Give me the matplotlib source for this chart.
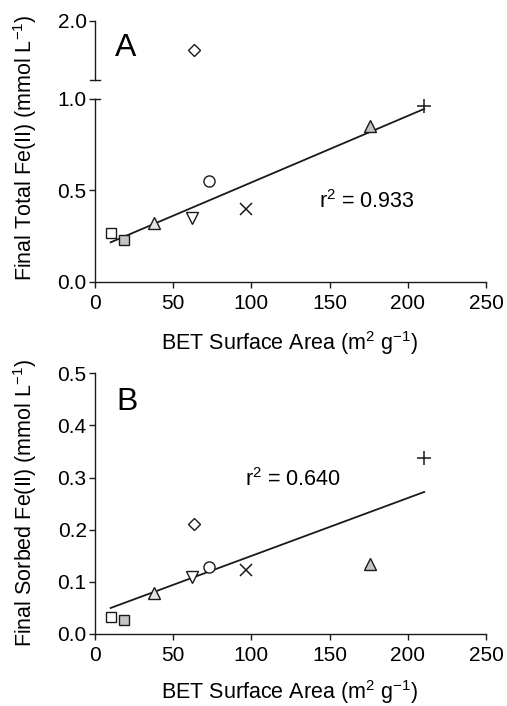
import numpy as np
import matplotlib
matplotlib.use("Agg")
import matplotlib.pyplot as plt

plt.rcParams['font.family'] = ['Liberation Sans', 'DejaVu Sans']
plt.rcParams['mathtext.fontset'] = 'custom'
plt.rcParams['mathtext.rm'] = 'Liberation Sans'

# ---- data ----
surface_area = [10, 18.5, 37.5, 62, 63.5, 73, 96.5, 176, 210.5]
total_fe     = [0.27, 0.23, 0.32, 0.35, 1.75, 0.55, 0.40, 0.85, 0.96]
sorbed_fe    = [0.033, 0.026, 0.078, 0.109, 0.211, 0.128, 0.123, 0.134, 0.337]
markers      = ['s', 's', '^', 'v', 'D', 'o', 'x', '^', '+']
facecolors   = ['white', '#c4c4c4', '#e4e4e4', 'white', 'white', 'white', 'none', '#c4c4c4', 'none']
marker_sizes = [7, 7, 8, 8, 6.5, 8, 8.5, 8, 9.5]
outlier_in_total = [False, False, False, False, True, False, False, False, False]
xticks = [0, 50, 100, 150, 200, 250]
r2_A = "0.933"
r2_B = "0.640"

FS_TICK = 15
FS_LAB = 15.5
EC = '#1a1a1a'

fig = plt.figure(figsize=(5.07, 7.06), dpi=100)

def style(ax, bottom=True):
    for s in ['top', 'right']:
        ax.spines[s].set_visible(False)
    ax.spines['left'].set_color(EC)
    ax.spines['left'].set_linewidth(1.0)
    ax.spines['bottom'].set_color(EC)
    ax.spines['bottom'].set_linewidth(1.0)
    if not bottom:
        ax.spines['bottom'].set_visible(False)
    ax.tick_params(direction='out', length=4.5, width=1.0, color=EC,
                   labelsize=FS_TICK, pad=1.5)
    ax.tick_params(axis='x', pad=4.5)

def draw_points(ax, xs, ys, mask=None):
    for i, (x, y) in enumerate(zip(xs, ys)):
        if mask is not None and not mask[i]:
            continue
        m = markers[i]
        fc = facecolors[i]
        if m in ('x', '+'):
            ax.plot([x], [y], marker=m, ms=marker_sizes[i], mew=1.1,
                    color=EC, linestyle='none', clip_on=False, zorder=3)
        else:
            ax.plot([x], [y], marker=m, ms=marker_sizes[i], mew=1.0,
                    mec=EC, mfc=fc, linestyle='none', clip_on=False, zorder=3)

# ---------- Panel A ----------
L, W = 0.1874, 0.7712
axA = fig.add_axes([L, 0.6006, W, 0.2592])
axA_top = fig.add_axes([L, 0.8867, W, 0.0836])

style(axA)
style(axA_top, bottom=False)

xA = np.array([x for x, o in zip(surface_area, outlier_in_total) if not o])
yA = np.array([y for y, o in zip(total_fe, outlier_in_total) if not o])
slopeA, intA = np.polyfit(xA, yA, 1)
xx = np.array([min(xA), max(xA)])
axA.plot(xx, slopeA * xx + intA, color=EC, lw=1.3, zorder=2)

draw_points(axA, surface_area, total_fe, mask=[not o for o in outlier_in_total])
draw_points(axA_top, surface_area, total_fe, mask=outlier_in_total)

axA.set_xlim(0, 250)
axA.set_ylim(0, 1.0)
axA.set_xticks(xticks)
axA.set_yticks([0.0, 0.5, 1.0])
axA.set_yticklabels(['0.0', '0.5', '1.0'])

axA_top.set_xlim(0, 250)
axA_top.set_ylim(1.5, 2.0)
axA_top.set_xticks([])
axA_top.set_yticks([2.0])
axA_top.set_yticklabels(['2.0'])
axA_top.patch.set_alpha(0)
# break caps
axA_top.plot([-0.014, 0.014], [0, 0], transform=axA_top.transAxes,
             color=EC, lw=1.0, clip_on=False)
axA.plot([0, 0.012], [1, 1], transform=axA.transAxes,
         color=EC, lw=1.0, clip_on=False)

axA.text(143, 0.44, r'r$^2$ = ' + r2_A, fontsize=FS_LAB, va='center', ha='left')
fig.text(126 / 507, 1 - 48 / 706, 'A', fontsize=23, ha='center', va='center')
fig.text(25 / 507, 1 - 148 / 706, 'Final Total Fe(II) (mmol L$^{-1}$)',
         rotation=90, fontsize=FS_LAB, ha='center', va='center')
fig.text(290 / 507, 1 - 343 / 706, 'BET Surface Area (m$^2$ g$^{-1}$)',
         fontsize=FS_LAB, ha='center', va='center')

# ---------- Panel B ----------
axB = fig.add_axes([L, 0.1020, W, 0.3692])
style(axB)
xB = np.array(surface_area)
yB = np.array(sorbed_fe)
slopeB, intB = np.polyfit(xB, yB, 1)
xx = np.array([min(xB), max(xB)])
axB.plot(xx, slopeB * xx + intB, color=EC, lw=1.3, zorder=2)
draw_points(axB, surface_area, sorbed_fe)

axB.set_xlim(0, 250)
axB.set_ylim(0, 0.5)
axB.set_xticks(xticks)
axB.set_yticks([0.0, 0.1, 0.2, 0.3, 0.4, 0.5])
axB.set_yticklabels(['0.0', '0.1', '0.2', '0.3', '0.4', '0.5'])
axB.text(96, 0.297, r'r$^2$ = ' + r2_B, fontsize=FS_LAB, va='center', ha='left')
fig.text(127 / 507, 1 - 402 / 706, 'B', fontsize=23, ha='center', va='center')
fig.text(25 / 507, 1 - 503 / 706, 'Final Sorbed Fe(II) (mmol L$^{-1}$)',
         rotation=90, fontsize=FS_LAB, ha='center', va='center')
fig.text(290 / 507, 1 - 692 / 706, 'BET Surface Area (m$^2$ g$^{-1}$)',
         fontsize=FS_LAB, ha='center', va='center')

fig.savefig('out.png', dpi=100)
